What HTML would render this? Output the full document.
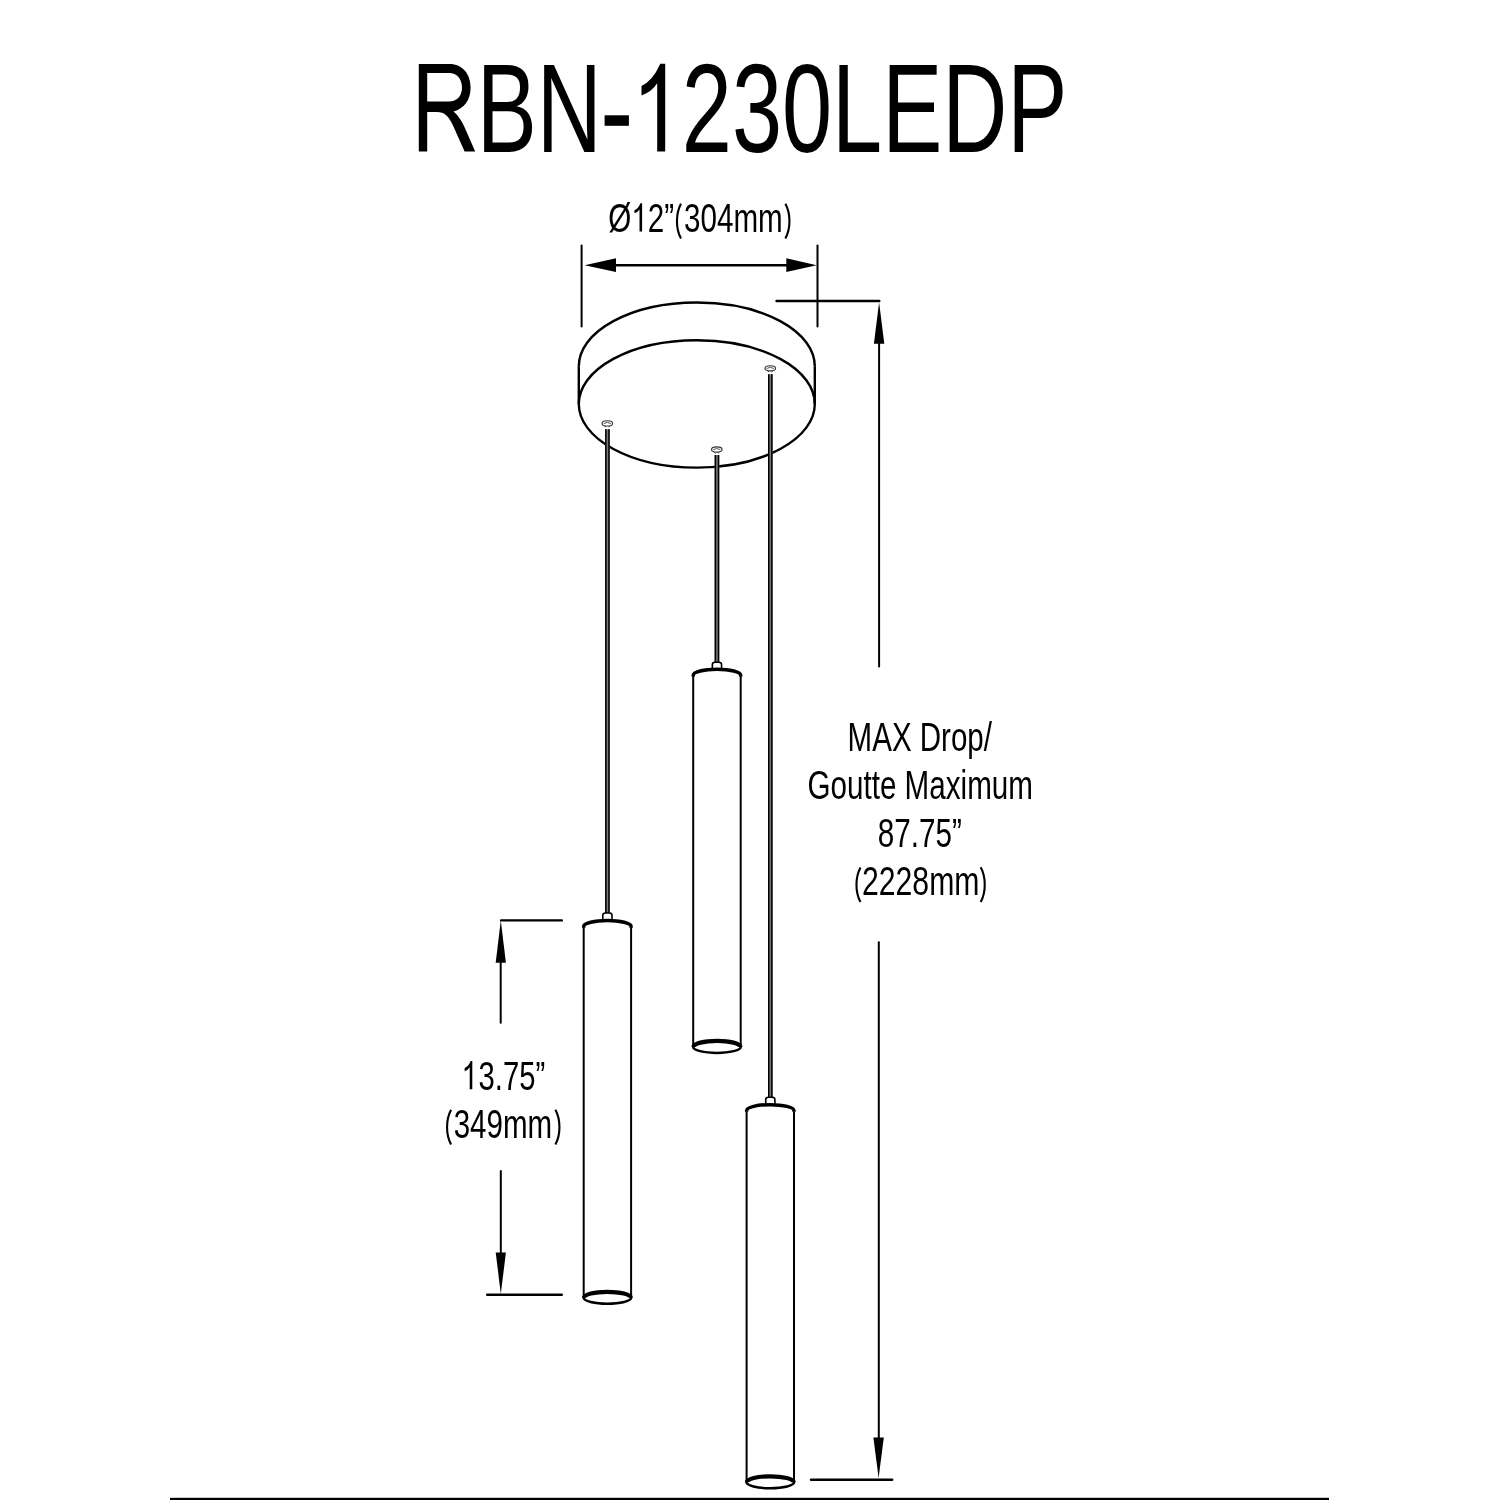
<!DOCTYPE html>
<html><head><meta charset="utf-8">
<style>
html,body{margin:0;padding:0;background:#fff;}
svg{display:block;will-change:transform;}
text{font-family:"Liberation Sans", sans-serif;fill:#000;}
</style></head>
<body>
<svg width="1500" height="1500" viewBox="0 0 1500 1500">
<rect width="1500" height="1500" fill="#fff"/>
<defs><path id="pl" d="M0,0.5 C-5.4,10.5 -5.4,25.2 0,35.2" fill="none" stroke="#000" stroke-width="2.1"/><path id="pr" d="M0,0.5 C5.4,10.5 5.4,25.2 0,35.2" fill="none" stroke="#000" stroke-width="2.1"/><path id="one" d="M-4.9,-87.8 H0 V0 H-8 V-68.3 Q-13.6,-59.5 -23.7,-56.2 V-65.7 Q-12.6,-70.5 -4.9,-87.8 Z"/></defs>
<use href="#one" transform="translate(665.2,151.6)"/>
<g transform="translate(0,-0.4000000000000057)"><path fill-rule="evenodd" d="M418.8,152 V64.5 H449.5 C462.5,64.5 470.6,74.5 470.6,88 C470.6,100.5 464,109.5 453.5,111.8 C458,115.5 461.5,121 464,126.5 L475.2,152 H464.6 L453,126 C448.5,116.5 444.5,112.5 437,112.5 H427.2 V152 Z M427.2,73.5 H449 C457,73.5 462,79.5 462,88 C462,96.5 457,102 449,102 H427.2 Z"/></g>
<rect x="604.6" y="115.3" width="24.3" height="10.5"/>
<text transform="translate(411.6,151.6) scale(0.7093,1)" font-size="127"><tspan fill="transparent">R</tspan>BN<tspan fill="transparent">-1</tspan>230LEDP</text>
<text transform="translate(608.3,231.5) scale(0.7223,1)" font-size="41">Ø<tspan fill="transparent">1</tspan>2”<tspan fill="transparent">(</tspan>304mm<tspan fill="transparent">)</tspan></text>
<use href="#one" transform="translate(642.1,231.5) scale(0.323)"/>
<text transform="translate(847.6,751.1) scale(0.7292,1)" font-size="40.5">MAX Drop/</text>
<text transform="translate(807.5,799.2) scale(0.7313,1)" font-size="40.5">Goutte Maximum</text>
<text transform="translate(877.8,847.3) scale(0.7333,1)" font-size="40.5">87.75”</text>
<text transform="translate(851.9,895.0) scale(0.7458,1)" font-size="40.5"><tspan fill="transparent">(</tspan>2228mm<tspan fill="transparent">)</tspan></text>
<text transform="translate(462.3,1089.5) scale(0.7227,1)" font-size="40.5"><tspan fill="transparent">1</tspan>3.75”</text>
<use href="#one" transform="translate(472.3,1089.3) scale(0.323)"/>
<text transform="translate(443.8,1137.5) scale(0.7293,1)" font-size="40.5"><tspan fill="transparent">(</tspan>349mm<tspan fill="transparent">)</tspan></text>
<use href="#pl" transform="translate(681.0,203.3)"/>
<use href="#pr" transform="translate(785.4,203.2)"/>
<use href="#pl" transform="translate(860.5,866.9)"/>
<use href="#pr" transform="translate(980.7,866.8)"/>
<use href="#pl" transform="translate(451.1,1109.3)"/>
<use href="#pr" transform="translate(555.4,1109.3)"/>
<line x1="581.6" y1="245.6" x2="581.6" y2="326.6" stroke="#000" stroke-width="2.0" stroke-linecap="round"/>
<line x1="817.5" y1="245.6" x2="817.5" y2="326.6" stroke="#000" stroke-width="2.0" stroke-linecap="round"/>
<line x1="600" y1="265.2" x2="800" y2="265.2" stroke="#000" stroke-width="2.4" stroke-linecap="round"/>
<polygon points="584.6,265.2 616,258.3 616,272.1"/>
<polygon points="816.7,265.2 786.3,258.3 786.3,272.1"/>
<line x1="776.5" y1="301.0" x2="879.3" y2="301.0" stroke="#000" stroke-width="2.4" stroke-linecap="round"/>
<line x1="879.1" y1="320" x2="879.1" y2="666.5" stroke="#000" stroke-width="2.0" stroke-linecap="round"/>
<line x1="878.8" y1="942.3" x2="878.8" y2="1460" stroke="#000" stroke-width="2.0" stroke-linecap="round"/>
<line x1="811" y1="1479.8" x2="892.2" y2="1479.8" stroke="#000" stroke-width="2.4" stroke-linecap="round"/>
<polygon points="879.1,302.4 873.9,343.7 884.3,343.7"/>
<polygon points="878.6,1478 873.4,1437.6 883.8,1437.6"/>
<line x1="501.1" y1="920.4" x2="561.8" y2="920.4" stroke="#000" stroke-width="2.4" stroke-linecap="round"/>
<line x1="500.7" y1="940" x2="500.7" y2="1022.7" stroke="#000" stroke-width="2.0" stroke-linecap="round"/>
<line x1="500.8" y1="1171" x2="500.8" y2="1270" stroke="#000" stroke-width="2.0" stroke-linecap="round"/>
<line x1="487.2" y1="1294.7" x2="561.8" y2="1294.7" stroke="#000" stroke-width="2.4" stroke-linecap="round"/>
<polygon points="500.8,920.5 495.7,962.8 505.9,962.8"/>
<polygon points="500.8,1294 495.7,1252.4 505.9,1252.4"/>
<g stroke="#000" stroke-width="2.4" fill="none">
<path d="M578.8,366.2 A118,63.7 0 0 1 814.8,366.2"/>
<line x1="578.8" y1="366.2" x2="578.8" y2="403.9"/>
<line x1="814.8" y1="366.2" x2="814.8" y2="403.9"/>
<ellipse cx="696.8" cy="403.9" rx="118" ry="63.7"/>
</g>
<rect x="605.1" y="429.2" width="4.6" height="484.8" fill="#7a7a7a"/>
<rect x="605.1" y="429.2" width="1.5" height="484.8" fill="#000"/>
<rect x="608.1999999999999" y="429.2" width="1.5" height="484.8" fill="#000"/>
<path d="M602.8,921.1 V915.3 Q602.8,913.0 605.4,913.0 H609.4 Q612.0,913.0 612.0,915.3 V921.1" fill="#fff" stroke="#000" stroke-width="1.6"/>
<line x1="583.6999999999999" y1="927.3000000000001" x2="583.6999999999999" y2="1297.8" stroke="#000" stroke-width="2"/>
<line x1="631.1" y1="927.3000000000001" x2="631.1" y2="1297.8" stroke="#000" stroke-width="2"/>
<path d="M583.6999999999999,927.6500000000001 V926.45 A23.7,6.0 0 0 1 631.1,926.45 V927.6500000000001" fill="none" stroke="#000" stroke-width="3.5" stroke-linejoin="round"/>
<ellipse cx="607.4" cy="1297.8" rx="23.7" ry="6" fill="none" stroke="#000" stroke-width="2.5"/>
<path d="M583.9999999999999,1297.8 A23.4,6 0 0 1 630.8000000000001,1297.8" fill="none" stroke="#000" stroke-width="4.2"/>
<rect x="714.6500000000001" y="455.0" width="4.6" height="208.20000000000005" fill="#7a7a7a"/>
<rect x="714.6500000000001" y="455.0" width="1.5" height="208.20000000000005" fill="#000"/>
<rect x="717.75" y="455.0" width="1.5" height="208.20000000000005" fill="#000"/>
<path d="M712.35,669.9 V664.5 Q712.35,662.2 714.95,662.2 H718.95 Q721.5500000000001,662.2 721.5500000000001,664.5 V669.9" fill="#fff" stroke="#000" stroke-width="1.6"/>
<line x1="693.2" y1="676.1" x2="693.2" y2="1046.9" stroke="#000" stroke-width="2"/>
<line x1="740.7" y1="676.1" x2="740.7" y2="1046.9" stroke="#000" stroke-width="2"/>
<path d="M693.2,676.45 V675.25 A23.75,6.0 0 0 1 740.7,675.25 V676.45" fill="none" stroke="#000" stroke-width="3.5" stroke-linejoin="round"/>
<ellipse cx="716.95" cy="1046.9" rx="23.75" ry="6" fill="none" stroke="#000" stroke-width="2.5"/>
<path d="M693.5,1046.9 A23.45,6 0 0 1 740.4000000000001,1046.9" fill="none" stroke="#000" stroke-width="4.2"/>
<rect x="768.0" y="374.2" width="4.6" height="724.0999999999999" fill="#7a7a7a"/>
<rect x="768.0" y="374.2" width="1.5" height="724.0999999999999" fill="#000"/>
<rect x="771.0999999999999" y="374.2" width="1.5" height="724.0999999999999" fill="#000"/>
<path d="M765.6999999999999,1105.3 V1099.6 Q765.6999999999999,1097.3 768.3,1097.3 H772.3 Q774.9,1097.3 774.9,1099.6 V1105.3" fill="#fff" stroke="#000" stroke-width="1.6"/>
<line x1="746.5999999999999" y1="1111.5" x2="746.5999999999999" y2="1482.3" stroke="#000" stroke-width="2"/>
<line x1="794.0" y1="1111.5" x2="794.0" y2="1482.3" stroke="#000" stroke-width="2"/>
<path d="M746.5999999999999,1111.85 V1110.6499999999999 A23.7,6.0 0 0 1 794.0,1110.6499999999999 V1111.85" fill="none" stroke="#000" stroke-width="3.5" stroke-linejoin="round"/>
<ellipse cx="770.3" cy="1482.3" rx="23.7" ry="6" fill="none" stroke="#000" stroke-width="2.5"/>
<path d="M746.8999999999999,1482.3 A23.4,6 0 0 1 793.7,1482.3" fill="none" stroke="#000" stroke-width="4.2"/>
<ellipse cx="607.3" cy="423.4" rx="5.3" ry="2.6" fill="#fff" stroke="#333" stroke-width="1.1"/>
<path d="M603.6999999999999,423.59999999999997 Q607.3,421.2 610.9,423.59999999999997" fill="none" stroke="#444" stroke-width="0.9"/>
<path d="M605.0999999999999,426.2 L605.6999999999999,427.2 M609.5,426.2 L608.9,427.2" stroke="#222" stroke-width="1"/>
<ellipse cx="716.8" cy="449.5" rx="5.3" ry="2.6" fill="#fff" stroke="#333" stroke-width="1.1"/>
<path d="M713.1999999999999,449.7 Q716.8,447.3 720.4,449.7" fill="none" stroke="#444" stroke-width="0.9"/>
<path d="M714.5999999999999,452.3 L715.1999999999999,453.3 M719.0,452.3 L718.4,453.3" stroke="#222" stroke-width="1"/>
<ellipse cx="770.3" cy="368.3" rx="5.3" ry="2.6" fill="#fff" stroke="#333" stroke-width="1.1"/>
<path d="M766.6999999999999,368.5 Q770.3,366.1 773.9,368.5" fill="none" stroke="#444" stroke-width="0.9"/>
<path d="M768.0999999999999,371.1 L768.6999999999999,372.1 M772.5,371.1 L771.9,372.1" stroke="#222" stroke-width="1"/>
<rect x="170" y="1497.8" width="1159" height="2.2" fill="#000"/>
</svg>
</body></html>
